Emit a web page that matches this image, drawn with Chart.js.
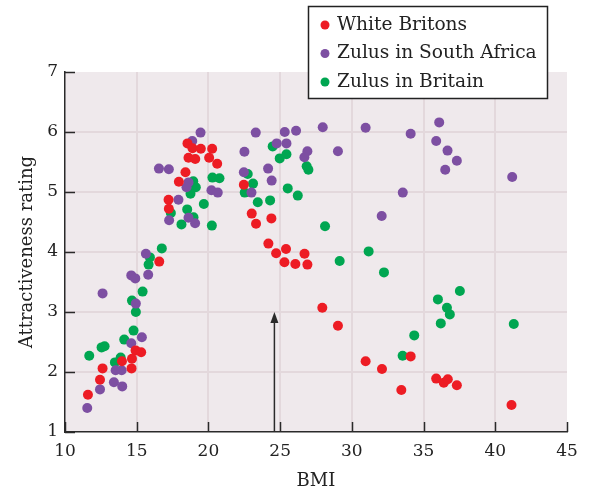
<!DOCTYPE html>
<html>
<head>
<meta charset="utf-8">
<script src="https://cdn.jsdelivr.net/npm/chart.js@4.4.1/dist/chart.umd.min.js"></script>
<style>
  html, body { margin: 0; padding: 0; background: #fff; }
  #wrap { width: 591px; height: 492px; }
</style>
</head>
<body>
<div id="wrap"><canvas id="chart" width="591" height="492"></canvas></div>
<script>
// White Britons
const britonsBmi = [18.54, 18.89, 19.47, 20.26, 18.61, 19.08, 20.05, 20.61, 18.40, 17.94, 17.22, 17.24, 16.57,
    14.92, 15.31, 14.67, 13.97, 12.62, 14.64, 12.44, 11.60, 22.47, 23.02, 24.39, 23.32, 24.18, 24.72, 25.41,
    26.70, 25.30, 26.06, 26.90, 27.94, 29.03, 30.96, 32.10, 33.45, 34.10, 35.88, 36.41, 36.69, 37.32, 41.13];
const britonsRating = [5.81, 5.73, 5.72, 5.72, 5.57, 5.55, 5.57, 5.47, 5.33, 5.17, 4.87, 4.72, 3.84,
    2.36, 2.33, 2.22, 2.18, 2.06, 2.06, 1.87, 1.62, 5.12, 4.64, 4.56, 4.47, 4.14, 3.98, 4.05,
    3.97, 3.83, 3.80, 3.79, 3.07, 2.77, 2.18, 2.05, 1.70, 2.26, 1.89, 1.82, 1.88, 1.78, 1.45];

// Zulus in South Africa
const zuluSaBmi = [19.45, 18.87, 16.55, 17.24, 18.61, 18.47, 20.21, 20.65, 17.91, 18.61, 17.26, 19.07, 15.64,
    14.62, 14.90, 15.80, 12.62, 14.94, 15.36, 14.62, 13.53, 13.95, 13.41, 13.99, 12.44, 11.55,
    23.30, 25.32, 26.11, 27.97, 30.96, 34.10, 24.76, 25.44, 22.51, 26.90, 26.69, 29.03, 24.16, 22.47,
    24.41, 23.00, 33.55, 32.08, 36.09, 35.88, 36.67, 37.32, 36.51, 41.18];
const zuluSaRating = [5.99, 5.85, 5.39, 5.38, 5.16, 5.08, 5.03, 4.99, 4.87, 4.57, 4.53, 4.48, 3.97,
    3.61, 3.56, 3.62, 3.31, 3.14, 2.58, 2.48, 2.03, 2.03, 1.83, 1.76, 1.71, 1.40,
    5.99, 6.00, 6.02, 6.08, 6.07, 5.97, 5.81, 5.81, 5.67, 5.68, 5.58, 5.68, 5.39, 5.33,
    5.19, 4.99, 4.99, 4.60, 6.16, 5.85, 5.69, 5.52, 5.37, 5.25];

// Zulus in Britain
const zuluUkBmi = [20.28, 20.77, 18.94, 19.12, 18.75, 17.38, 18.52, 19.68, 18.96, 18.12, 20.24, 16.75, 15.92,
    15.83, 15.41, 14.67, 14.94, 14.78, 14.13, 12.55, 12.76, 11.69, 13.88, 13.48,
    24.48, 25.44, 24.97, 26.85, 26.97, 22.74, 23.11, 22.53, 25.53, 26.23, 23.44, 24.30, 28.13, 31.17,
    29.15, 32.24, 33.54, 34.35, 36.00, 36.63, 36.83, 36.20, 37.53, 41.29];
const zuluUkRating = [5.24, 5.23, 5.18, 5.08, 4.97, 4.65, 4.71, 4.80, 4.58, 4.46, 4.44, 4.06, 3.91,
    3.79, 3.34, 3.19, 3.00, 2.69, 2.54, 2.41, 2.43, 2.27, 2.24, 2.16,
    5.76, 5.63, 5.56, 5.43, 5.37, 5.30, 5.14, 4.99, 5.06, 4.94, 4.83, 4.86, 4.43, 4.01,
    3.85, 3.66, 2.27, 2.61, 3.21, 3.07, 2.96, 2.81, 3.35, 2.80];

const seriesLabels = ['White Britons', 'Zulus in South Africa', 'Zulus in Britain'];
const seriesColors = ['#ed1c24', '#7d4fa2', '#00a651'];
const arrowBmi = 24.6;

const SERIF = '"DejaVu Serif", serif';

function toPoints(xs, ys) {
    return xs.map((x, i) => ({ x: x, y: ys[i] }));
}

// plot background, inward tick marks and the arrow
const plotDecor = {
    id: 'plotDecor',
    beforeDraw(chart) {
        const { ctx, chartArea: a } = chart;
        ctx.save();
        ctx.fillStyle = '#efe9ec';
        ctx.fillRect(a.left, a.top, a.right - a.left, a.bottom - a.top);
        ctx.restore();
    },
    beforeDatasetsDraw(chart) {
        const { ctx, chartArea: a, scales: { x, y } } = chart;
        ctx.save();
        ctx.strokeStyle = '#2a2a2a';
        ctx.lineWidth = 1.5;
        ctx.beginPath();
        x.ticks.forEach(t => {
            const px = Math.round(x.getPixelForValue(t.value)) + 0.5;
            ctx.moveTo(px, a.bottom);
            ctx.lineTo(px, a.bottom - 10);
        });
        y.ticks.forEach(t => {
            const py = Math.round(y.getPixelForValue(t.value)) + 0.5;
            ctx.moveTo(a.left, py);
            ctx.lineTo(a.left + 10, py);
        });
        ctx.stroke();

        // arrow
        const ax = x.getPixelForValue(arrowBmi);
        const tip = y.getPixelForValue(3);
        ctx.beginPath();
        ctx.moveTo(ax, a.bottom);
        ctx.lineTo(ax, tip + 8);
        ctx.stroke();
        ctx.fillStyle = '#2a2a2a';
        ctx.beginPath();
        ctx.moveTo(ax, tip);
        ctx.lineTo(ax - 4, tip + 11);
        ctx.lineTo(ax + 4, tip + 11);
        ctx.closePath();
        ctx.fill();
        ctx.restore();
    }
};

// boxed legend in the top right, drawn over the plot
const boxLegend = {
    id: 'boxLegend',
    afterDraw(chart) {
        const ctx = chart.ctx;
        const box = { left: 308.5, top: 6.5, width: 239, height: 92 };
        ctx.save();
        ctx.fillStyle = '#fff';
        ctx.fillRect(box.left, box.top, box.width, box.height);
        ctx.strokeStyle = '#222';
        ctx.lineWidth = 1.5;
        ctx.strokeRect(box.left, box.top, box.width, box.height);
        ctx.font = '18.6px ' + SERIF;
        ctx.textBaseline = 'middle';
        ctx.textAlign = 'left';
        chart.data.datasets.forEach((ds, i) => {
            const cy = 25 + i * 28.5;
            ctx.fillStyle = ds.backgroundColor;
            ctx.beginPath();
            ctx.arc(325, cy, 4.5, 0, Math.PI * 2);
            ctx.fill();
            ctx.fillStyle = '#222';
            ctx.fillText(ds.label, 337, cy);
        });
        ctx.restore();
    }
};

new Chart(document.getElementById('chart'), {
    type: 'scatter',
    data: {
        datasets: [
            { label: seriesLabels[0], data: toPoints(britonsBmi, britonsRating), backgroundColor: seriesColors[0] },
            { label: seriesLabels[1], data: toPoints(zuluSaBmi, zuluSaRating), backgroundColor: seriesColors[1] },
            { label: seriesLabels[2], data: toPoints(zuluUkBmi, zuluUkRating), backgroundColor: seriesColors[2] }
        ]
    },
    options: {
        responsive: false,
        devicePixelRatio: 1,
        animation: false,
        layout: { padding: { top: 72, right: 24, left: 0, bottom: 0 } },
        elements: { point: { radius: 5, borderWidth: 0, hoverRadius: 5 } },
        plugins: {
            legend: { display: false },
            tooltip: { enabled: false }
        },
        scales: {
            x: {
                type: 'linear',
                min: 10,
                max: 45,
                afterFit: s => { s.height = 60; },
                ticks: { stepSize: 5, color: '#222', padding: 9, font: { family: SERIF, size: 17 } },
                grid: {
                    drawTicks: false,
                    lineWidth: 2,
                    color: c => (c.tick && (c.tick.value === 10 || c.tick.value === 45)) ? 'rgba(0,0,0,0)' : '#e3d8dc'
                },
                border: { display: true, color: '#2a2a2a', width: 1.5 },
                title: { display: true, text: 'BMI', color: '#222', padding: { top: 0, bottom: 0 }, font: { family: SERIF, size: 18 } }
            },
            y: {
                min: 1,
                max: 7,
                afterFit: s => { s.width = 65; },
                ticks: { stepSize: 1, color: '#222', padding: 7, font: { family: SERIF, size: 17 } },
                grid: {
                    drawTicks: false,
                    lineWidth: 2,
                    color: c => (c.tick && (c.tick.value === 1 || c.tick.value === 7)) ? 'rgba(0,0,0,0)' : '#e3d8dc'
                },
                border: { display: true, color: '#2a2a2a', width: 1.5 },
                title: { display: true, text: 'Attractiveness rating', color: '#222', padding: { top: 17, bottom: 0 }, font: { family: SERIF, size: 18 } }
            }
        }
    },
    plugins: [plotDecor, boxLegend]
});
</script>
</body>
</html>
